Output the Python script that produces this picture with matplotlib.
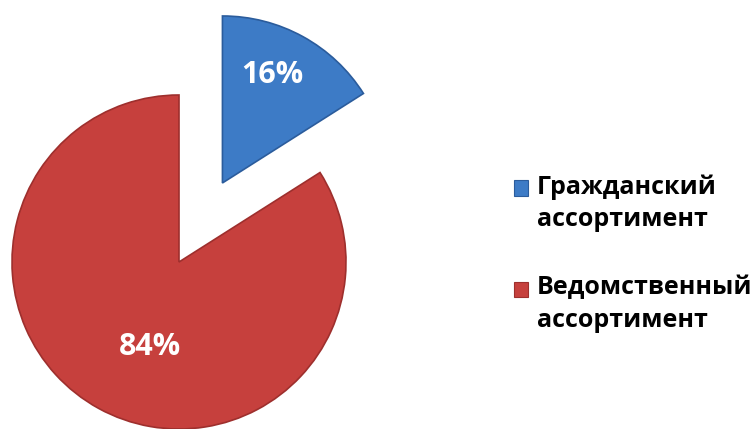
import numpy as np
import matplotlib
matplotlib.use("Agg")
import matplotlib.pyplot as plt
from matplotlib.patches import Rectangle
from matplotlib.legend_handler import HandlerPatch

categories = ["Гражданский\nассортимент", "Ведомственный\nассортимент"]
values = [16, 84]

colors = ["#3d7bc6", "#c6403d"]
edge_colors = ["#2b5c9c", "#9e2f2d"]

plt.rcParams['font.family'] = ['Open Sans', 'DejaVu Sans']

W, H = 753, 429
fig = plt.figure(figsize=(W / 100, H / 100), dpi=100)
ax = fig.add_axes([0, 0, 1, 1])

cx, cy, R = 179, H - 262, 167
wedges, texts = ax.pie(values, colors=colors, startangle=90, counterclock=False,
                       explode=[0.54 * R, 0], center=(cx, cy), radius=R,
                       wedgeprops=dict(linewidth=1.2))
for w, ec in zip(wedges, edge_colors):
    w.set_edgecolor(ec)

label_r = [0.71, 0.54]
label_shift = [4, 10]
for w, v, lr, sh in zip(wedges, values, label_r, label_shift):
    mid = np.deg2rad((w.theta1 + w.theta2) / 2 + sh)
    x0, y0 = w.center
    ax.text(x0 + lr * w.r * np.cos(mid), y0 + lr * w.r * np.sin(mid), f"{v}%",
            ha="center", va="center", color="white", fontsize=22, fontweight="bold")

ax.set_xlim(0, W)
ax.set_ylim(0, H)
ax.set_aspect("equal")
ax.axis("off")


class TopHandler(HandlerPatch):
    def create_artists(self, legend, orig_handle, xdescent, ydescent, width, height,
                       fontsize, trans):
        shift = 0.62 * fontsize
        p = Rectangle(xy=(-xdescent, -ydescent + shift), width=width, height=height,
                      facecolor=orig_handle.get_facecolor(),
                      edgecolor=orig_handle.get_edgecolor(), linewidth=0.8,
                      transform=trans)
        return [p]


fs = 18
leg = ax.legend(wedges, categories, loc="upper left", bbox_to_anchor=(514 / W, 1 - 174 / H),
                frameon=False, prop=dict(size=fs, weight="bold"),
                handlelength=0.55, handleheight=0.55, handletextpad=0.35,
                labelspacing=1.75, borderaxespad=0, borderpad=0,
                handler_map={w: TopHandler() for w in wedges})
for t in leg.get_texts():
    t.set_linespacing(1.38)

fig.savefig("out.png", dpi=100)
